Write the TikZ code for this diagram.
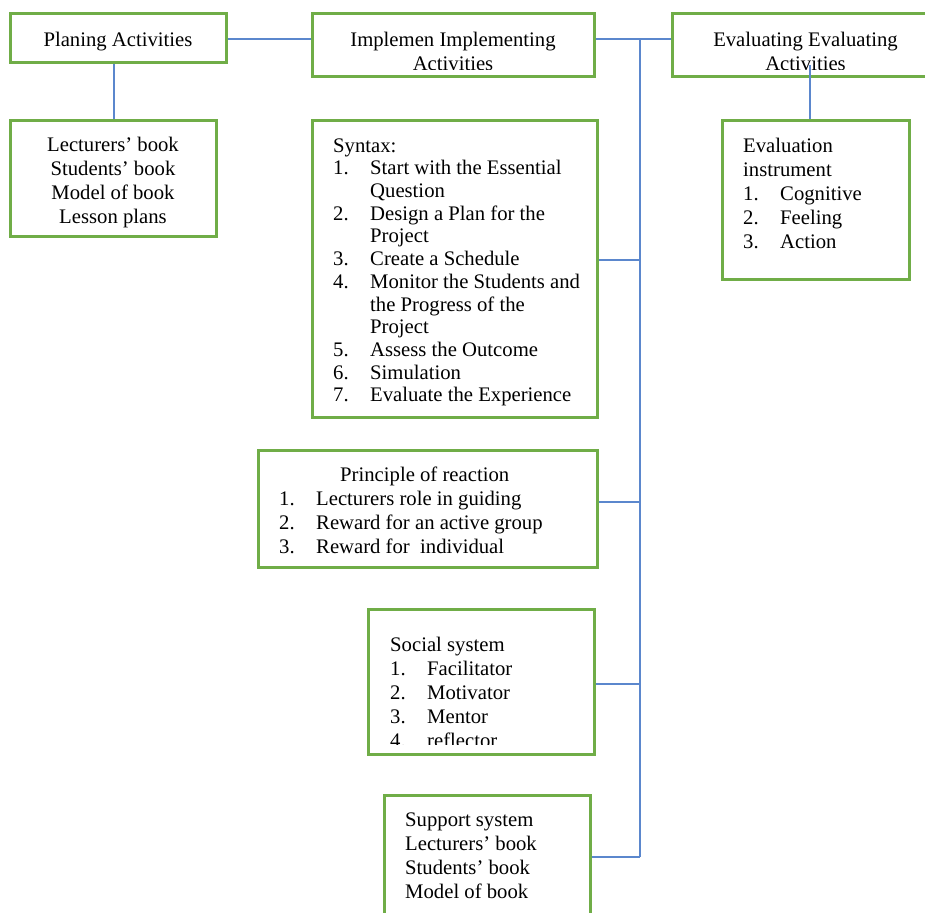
\documentclass[tikz,border=0pt]{standalone}
\usepackage{fontspec}
\setmainfont{Liberation Serif}
\usetikzlibrary{positioning, calc}
\definecolor{boxgreen}{RGB}{112,173,71}
\definecolor{linkblue}{RGB}{91,135,205}
\newlength{\numw}
\setlength{\numw}{37pt}
\newcommand{\nm}[1]{\makebox[\numw][l]{#1}}
\newcommand{\hang}{\hspace*{\numw}}

\begin{document}
\begin{tikzpicture}[
    x=1pt, y=-1pt,
    box/.style={rectangle, draw=boxgreen, line width=3pt, inner sep=0pt},
    link/.style={draw=linkblue, line width=1.2pt},
    txt/.style={inner sep=0pt, anchor=north west, align=left, font=\fontsize{20.7}{24}\selectfont}
]
\useasboundingbox (0,0) rectangle (925,912);

% top row
\node[box, minimum width=216pt, minimum height=49pt] (plan) at (118,38.5) {};
\node[txt, anchor=north] (plantxt) at (118,29.2) {\strut Planing Activities};
\node[box, minimum width=282pt, minimum height=63pt] (impl) at (453,45.5) {};
\node[box, minimum width=267pt, minimum height=63pt] (evalb) at (805.5,45.5) {};
\begin{scope}
  \clip (314,16) rectangle (592,69.5);
  \node[txt, anchor=north, align=center] (impltxt) at (453,29.2) {\strut Implemen Implementing\\Activities};
\end{scope}
\begin{scope}
  \clip (674,16) rectangle (925,69.5);
  \node[txt, anchor=north, align=center] (evaltxt) at (805.5,29.2) {\strut Evaluating Evaluating\\Activities};
\end{scope}

% boxes below
\node[box, minimum width=206pt, minimum height=115pt] (books) at (113,178.5) {};
\node[box, minimum width=285pt, minimum height=296pt] (syn) at (454.5,269) {};
\node[box, minimum width=339pt, minimum height=117pt] (prin) at (427.5,508.5) {};
\node[box, minimum width=226pt, minimum height=145pt] (soc) at (481,681.5) {};
\node[box, minimum width=206pt, minimum height=140pt] (sup) at (487,865) {};
\node[box, minimum width=187pt, minimum height=158pt] (instr) at (815.5,200) {};

% texts
\node[txt, anchor=north, align=center] (bookstxt) at (113,134.2) {\strut Lecturers’ book\\Students’ book\\Model of book\\Lesson plans};
\node[txt, font=\fontsize{20.7}{22.7}\selectfont] (syntxt) at (333,136.1) {\strut Syntax:\\
\nm{1.}Start with the Essential\\
\hang Question\\
\nm{2.}Design a Plan for the\\
\hang Project\\
\nm{3.}Create a Schedule\\
\nm{4.}Monitor the Students and\\
\hang the Progress of the\\
\hang Project\\
\nm{5.}Assess the Outcome\\
\nm{6.}Simulation\\
\nm{7.}Evaluate the Experience};
\node[txt] (printxt) at (279,464.2) {\strut\hspace*{61pt}Principle of reaction\\
\nm{1.}Lecturers role in guiding\\
\nm{2.}Reward for an active group\\
\nm{3.}Reward for\ \ individual};
\begin{scope}
  \clip (370,611) rectangle (592,744);
  \node[txt] (soctxt) at (390,634.2) {\strut Social system\\
\nm{1.}Facilitator\\
\nm{2.}Motivator\\
\nm{3.}Mentor\\
\nm{4.}reflector};
\end{scope}
\node[txt] (suptxt) at (405,809.2) {\strut Support system\\Lecturers’ book\\Students’ book\\Model of book};
\node[txt] (instrtxt) at (743,135.2) {\strut Evaluation\\instrument\\
\nm{1.}Cognitive\\
\nm{2.}Feeling\\
\nm{3.}Action};

% connectors
\coordinate (hub) at (640,39);
\coordinate (jsyn) at (640,260);
\coordinate (jprin) at (640,502);
\coordinate (jsoc) at (640,684);
\coordinate (jsup) at (640,857);
\coordinate (etap) at (810,65);

\draw[link] (plan.east |- hub) -- (impl.west |- hub);
\draw[link] (impl.east |- hub) -- (evalb.west |- hub);
\draw[link] (hub) -- (jsup);
\draw[link] (jsyn) -- (jsyn -| syn.east);
\draw[link] (jprin) -- (jprin -| prin.east);
\draw[link] (jsoc) -- (jsoc -| soc.east);
\draw[link] (jsup) -- (jsup -| sup.east);
\draw[link] (books.north -| 114,0) -- (plan.south -| 114,0);
\draw[link] (etap) -- (etap |- instr.north);
\end{tikzpicture}
\end{document}
